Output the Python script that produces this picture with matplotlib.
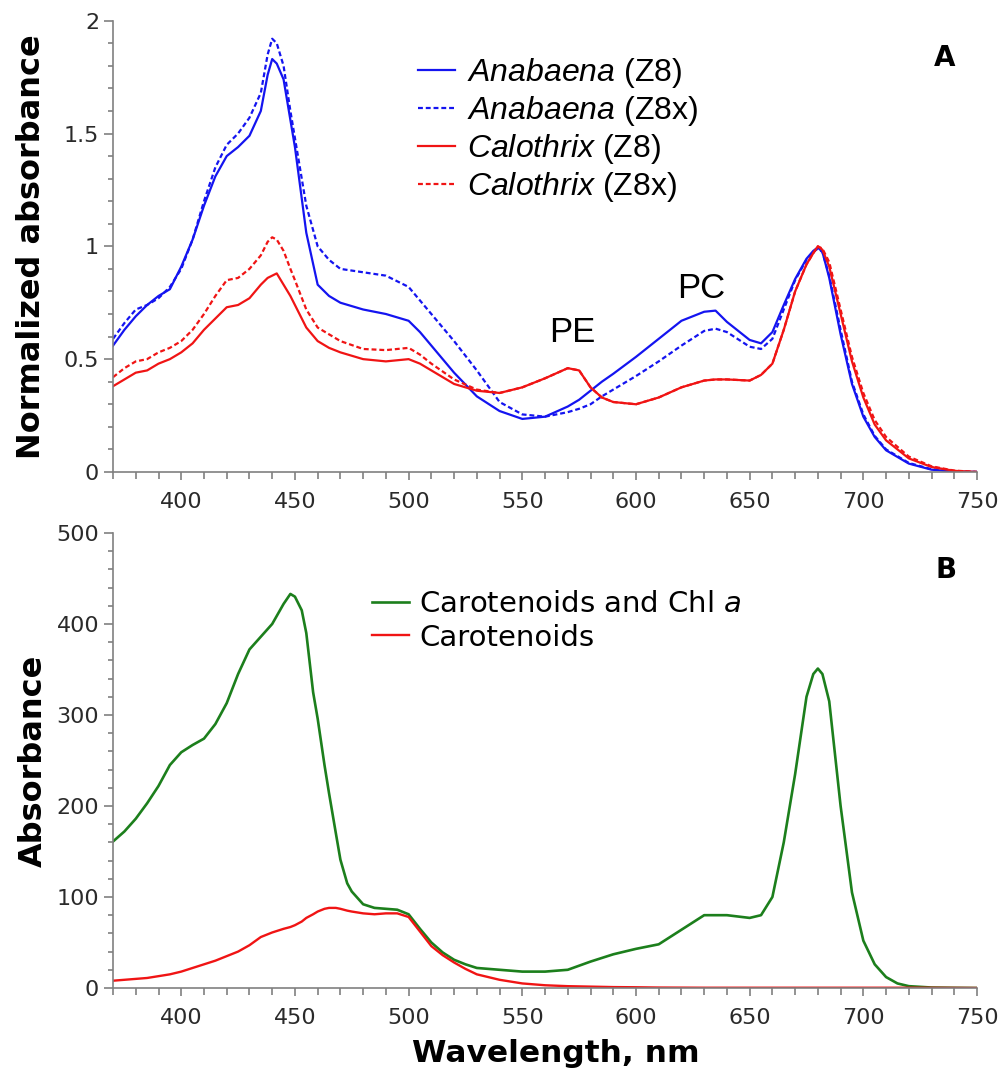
import matplotlib.pyplot as plt
from matplotlib.ticker import MultipleLocator

plt.rcParams['font.family'] = 'DejaVu Sans'
plt.rcParams['mathtext.fontset'] = 'custom'
plt.rcParams['mathtext.it'] = 'Liberation Sans:italic'
plt.rcParams['mathtext.rm'] = 'Liberation Sans'
plt.rcParams['mathtext.sf'] = 'DejaVu Sans:italic'

# ---- panel A data (normalized absorbance) ----
wl_a = [370, 375, 380, 385, 390, 395, 400, 405, 410, 415, 420, 425, 430, 435, 438, 440, 442,
        445, 448, 450, 455, 460, 465, 470, 480, 490, 500, 505, 510, 520, 530, 540, 550, 560,
        570, 575, 580, 585, 590, 600, 610, 620, 630, 635, 640, 650, 655, 660, 665, 670, 675,
        678, 680, 682, 685, 690, 695, 700, 705, 710, 720, 730, 740, 750]
anab_z8 = [0.56, 0.63, 0.69, 0.74, 0.78, 0.81, 0.91, 1.03, 1.18, 1.31, 1.40, 1.44, 1.49, 1.60, 1.76, 1.83, 1.81,
           1.74, 1.56, 1.44, 1.06, 0.83, 0.78, 0.75, 0.72, 0.70, 0.67, 0.62, 0.56, 0.44, 0.335, 0.27, 0.235, 0.245,
           0.29, 0.32, 0.36, 0.40, 0.435, 0.51, 0.59, 0.67, 0.71, 0.715, 0.665, 0.585, 0.57, 0.62, 0.74, 0.855, 0.945,
           0.98, 0.995, 0.975, 0.86, 0.61, 0.39, 0.245, 0.155, 0.096, 0.037, 0.01, 0.002, 0.0]
anab_z8x = [0.59, 0.66, 0.72, 0.74, 0.77, 0.82, 0.90, 1.03, 1.20, 1.35, 1.45, 1.50, 1.57, 1.68, 1.85, 1.92, 1.90,
            1.80, 1.60, 1.48, 1.18, 1.00, 0.94, 0.90, 0.885, 0.87, 0.82, 0.76, 0.70, 0.58, 0.45, 0.31, 0.255, 0.245,
            0.265, 0.28, 0.30, 0.335, 0.365, 0.425, 0.49, 0.56, 0.625, 0.635, 0.62, 0.555, 0.545, 0.59, 0.72, 0.85, 0.94,
            0.975, 0.99, 0.975, 0.87, 0.63, 0.40, 0.255, 0.16, 0.10, 0.04, 0.012, 0.003, 0.0]
calo_z8 = [0.38, 0.41, 0.44, 0.45, 0.48, 0.50, 0.53, 0.57, 0.63, 0.68, 0.73, 0.74, 0.77, 0.83, 0.86, 0.87, 0.88,
           0.83, 0.78, 0.74, 0.64, 0.58, 0.55, 0.53, 0.50, 0.49, 0.50, 0.48, 0.45, 0.39, 0.36, 0.35, 0.375, 0.415,
           0.46, 0.45, 0.375, 0.33, 0.31, 0.30, 0.33, 0.375, 0.405, 0.41, 0.41, 0.405, 0.43, 0.48, 0.63, 0.80, 0.92,
           0.97, 1.0, 0.985, 0.91, 0.70, 0.49, 0.33, 0.21, 0.14, 0.06, 0.022, 0.005, 0.0]
calo_z8x = [0.42, 0.46, 0.49, 0.50, 0.53, 0.55, 0.58, 0.63, 0.70, 0.78, 0.85, 0.86, 0.90, 0.96, 1.02, 1.04, 1.03,
            0.98, 0.90, 0.85, 0.72, 0.64, 0.61, 0.58, 0.545, 0.54, 0.55, 0.52, 0.48, 0.41, 0.365, 0.35, 0.375, 0.415,
            0.46, 0.45, 0.375, 0.33, 0.31, 0.30, 0.33, 0.375, 0.405, 0.41, 0.41, 0.405, 0.43, 0.48, 0.63, 0.80, 0.92,
            0.97, 1.0, 0.99, 0.93, 0.72, 0.51, 0.35, 0.23, 0.155, 0.068, 0.025, 0.006, 0.0]

# ---- panel B data (absorbance) ----
wl_b = [370, 375, 380, 385, 390, 395, 400, 405, 410, 415, 420, 425, 430, 435, 440, 445, 448, 450,
        453, 455, 458, 460, 463, 465, 468, 470, 473, 475, 480, 485, 490, 495, 500, 505, 510, 515,
        520, 525, 530, 540, 550, 560, 570, 580, 590, 600, 610, 620, 630, 640, 650, 655, 660, 665,
        670, 675, 678, 680, 682, 685, 690, 695, 700, 705, 710, 715, 720, 730, 740, 750]
caro_chl = [161, 172, 186, 203, 222, 245, 259, 267, 274, 290, 313, 345, 372, 386, 400, 422, 433, 430,
            415, 390, 325, 296, 245, 214, 170, 141, 115, 106, 92, 88, 87, 86, 81, 65, 50, 39,
            31, 26, 22, 20, 18, 18, 20, 29, 37, 43, 48, 64, 80, 80, 77, 80, 100, 160,
            235, 320, 345, 351, 345, 315, 200, 105, 52, 26, 12, 5, 2, 0.5, 0.2, 0]
caro = [8, 9, 10, 11, 13, 15, 18, 22, 26, 30, 35, 40, 47, 56, 61, 65, 67, 69,
        73, 77, 81, 84, 87, 88, 88, 87, 85, 84, 82, 81, 82, 82, 78, 62, 46, 36,
        28, 21, 15, 9, 5, 3, 2, 1.5, 1, 0.8, 0.5, 0.4, 0.3, 0.3, 0.3, 0.3, 0.3, 0.3,
        0.3, 0.3, 0.3, 0.3, 0.3, 0.3, 0.3, 0.3, 0.3, 0.3, 0.3, 0.3, 0.3, 0.2, 0.1, 0]

BLUE = '#1414f0'
RED = '#f01414'
GREEN = '#1c7f1c'
SPINE = '#808080'
TXT = '#2a2a2a'

fig = plt.figure(figsize=(10.03, 10.78), dpi=100)
ax1 = fig.add_axes([0.1127, 0.5622, 0.8614, 0.4186])
ax2 = fig.add_axes([0.1127, 0.0835, 0.8614, 0.4221])

dash = (0, (2.2, 1.3))
ax1.plot(wl_a, anab_z8, color=BLUE, lw=1.6, label=r'$\it{Anabaena}$ (Z8)')
ax1.plot(wl_a, anab_z8x, color=BLUE, lw=1.6, ls=dash, label=r'$\it{Anabaena}$ (Z8x)')
ax1.plot(wl_a, calo_z8, color=RED, lw=1.6, label=r'$\it{Calothrix}$ (Z8)')
ax1.plot(wl_a, calo_z8x, color=RED, lw=1.6, ls=dash, label=r'$\it{Calothrix}$ (Z8x)')

ax2.plot(wl_b, caro_chl, color=GREEN, lw=1.9, label=r'Carotenoids and Chl $\mathsf{a}$')
ax2.plot(wl_b, caro, color=RED, lw=1.7, label='Carotenoids')

for ax in (ax1, ax2):
    ax.set_xlim(370, 750)
    for s in ('top', 'right'):
        ax.spines[s].set_visible(False)
    for s in ('left', 'bottom'):
        ax.spines[s].set_color(SPINE)
        ax.spines[s].set_linewidth(1.2)
    ax.xaxis.set_major_locator(MultipleLocator(50))
    ax.xaxis.set_minor_locator(MultipleLocator(10))
    ax.tick_params(which='both', direction='out', color=SPINE, width=1.2,
                   labelsize=16, labelcolor=TXT)
    ax.tick_params(axis='x', which='major', length=6, pad=8.5)
    ax.tick_params(axis='x', which='minor', length=5)
    ax.tick_params(axis='y', which='major', length=6.5, pad=3.5)
    ax.tick_params(axis='y', which='minor', length=3.5)

ax1.set_ylim(0, 2)
ax1.yaxis.set_minor_locator(MultipleLocator(0.1))
ax1.set_yticks([0, 0.5, 1, 1.5, 2], ['0', '0.5', '1', '1.5', '2'])

ax2.set_ylim(0, 500)
ax2.yaxis.set_major_locator(MultipleLocator(100))
ax2.yaxis.set_minor_locator(MultipleLocator(20))

ax1.set_ylabel('Normalized absorbance', fontsize=23, fontweight='bold')
ax2.set_ylabel('Absorbance', fontsize=23, fontweight='bold')
ax2.set_xlabel('Wavelength, nm', fontsize=22.5, fontweight='bold')
ax1.yaxis.set_label_coords(-0.077, 0.5)
ax2.yaxis.set_label_coords(-0.074, 0.5)
ax2.xaxis.set_label_coords(0.512, -0.112)

ax1.legend(loc='upper left', bbox_to_anchor=(0.353, 0.922), frameon=False,
           prop={'family': 'Liberation Sans', 'size': 23}, borderpad=0, borderaxespad=0,
           handlelength=1.15, handletextpad=0.38, labelspacing=0.13)

ax2.legend(loc='upper left', bbox_to_anchor=(0.30, 0.875), frameon=False,
           prop={'size': 21}, borderpad=0, borderaxespad=0,
           handlelength=1.25, handletextpad=0.35, labelspacing=0.2)

ax1.text(0.962, 0.917, 'A', transform=ax1.transAxes, fontsize=20, fontweight='bold',
         ha='center', va='center')
ax2.text(0.964, 0.919, 'B', transform=ax2.transAxes, fontsize=20, fontweight='bold',
         ha='center', va='center')
ax1.text(572, 0.62, 'PE', fontsize=25, family='Liberation Sans', ha='center', va='center')
ax1.text(628.5, 0.815, 'PC', fontsize=25, family='Liberation Sans', ha='center', va='center')

fig.savefig('out.png', dpi=100)
